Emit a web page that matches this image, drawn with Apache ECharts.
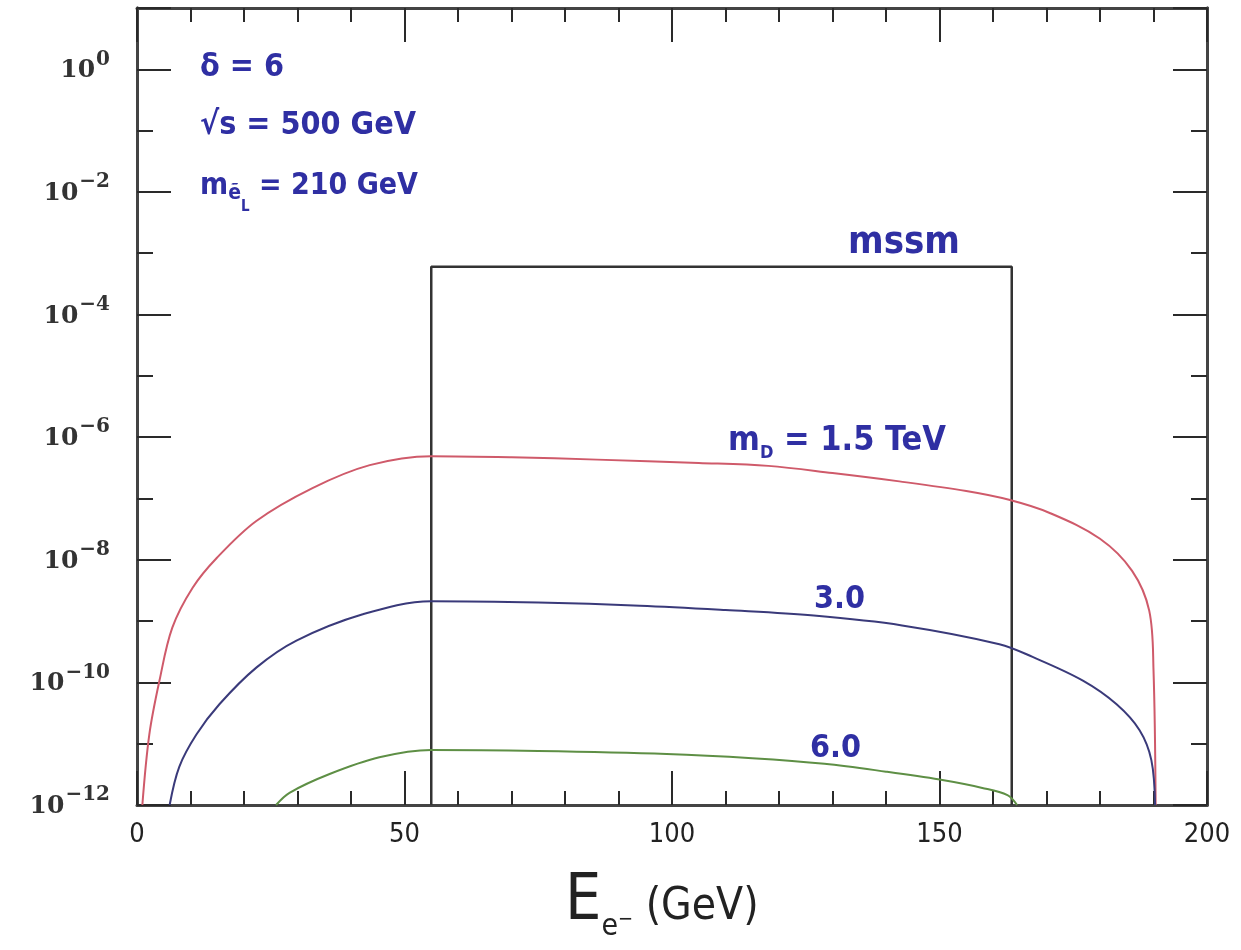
<!DOCTYPE html>
<html><head><meta charset="utf-8">
<script src="https://cdn.jsdelivr.net/npm/echarts@6/dist/echarts.min.js"></script>
<style>html,body{margin:0;padding:0;background:#fff}#c{width:1241px;height:950px}</style>
</head><body><div id="c"></div>
<script>
// ---- data ----
const xMin = 0, xMax = 200, xStep = 50;
const yMin = 1e-12, yMax = 10;

// m_D = 1.5 TeV (red)
const redX = [1.0, 2.3, 4.2, 6.6, 10.4, 14.9, 22.3, 32.8, 43.5, 55, 70, 86, 105, 118, 130, 142.5, 155, 163, 170.6, 180, 186, 189.2, 190, 190.4];
const redY = [1e-12, 1.41e-11, 1.07e-10, 7.8e-10, 3.5e-9, 1.07e-8, 4.3e-8, 1.48e-7, 3.5e-7, 4.9e-7, 4.7e-7, 4.3e-7, 3.8e-7, 3.4e-7, 2.6e-7, 1.9e-7, 1.32e-7, 9.5e-8, 5.8e-8, 2.2e-8, 6.6e-9, 1.48e-9, 1.6e-10, 1e-12];

// 3.0 TeV (blue)
const blueX = [6.1, 7.9, 11.1, 15.4, 22.3, 29.8, 42.2, 55, 75, 94, 110, 126.5, 143, 161.2, 167.4, 176.8, 183.1, 187.4, 189.6, 190.3];
const blueY = [1e-12, 4.2e-12, 1.41e-11, 4.4e-11, 1.74e-10, 4.8e-10, 1.29e-9, 2.1e-9, 2.0e-9, 1.78e-9, 1.51e-9, 1.23e-9, 8.5e-10, 4.2e-10, 2.6e-10, 1.07e-10, 4.4e-11, 1.66e-11, 5.4e-12, 1e-12];

// 6.0 TeV (green)
const greenX = [26, 28.5, 36, 45.3, 55, 75, 99, 115, 128.5, 140, 150, 158, 162.7, 164.5];
const greenY = [1e-12, 1.58e-12, 3.2e-12, 6.0e-12, 7.9e-12, 7.6e-12, 6.8e-12, 5.8e-12, 4.7e-12, 3.5e-12, 2.6e-12, 1.9e-12, 1.45e-12, 1e-12];

// MSSM box
const boxX = [55, 55, 163.5, 163.5];
const boxY = [1e-12, 6e-4, 6e-4, 1e-12];

// ---- chart ----
const pairs = (xs, ys) => xs.map((x, i) => [x, ys[i]]);
const hand = "'Liberation Sans Narrow','DejaVu Sans Condensed','Noto Sans',sans-serif";
const ink = '#2f2fa3';
const axisCol = '#444';
const tickCol = '#2a2a2a';

function xAxisCfg(pos, showLabel) {
  return {
    type: 'value', position: pos, min: xMin, max: xMax, interval: xStep,
    axisLine: { show: true, lineStyle: { color: axisCol, width: 3 } },
    axisTick: { show: true, inside: true, length: 34, lineStyle: { color: tickCol, width: 2 } },
    minorTick: { show: true, splitNumber: 5, length: 14, lineStyle: { color: tickCol, width: 2 } },
    splitLine: { show: false }, minorSplitLine: { show: false },
    axisLabel: { show: showLabel, margin: 16, color: '#222', fontFamily: hand, fontSize: 27 }
  };
}
function yAxisCfg(pos, interval, len, showLabel) {
  return {
    type: 'log', logBase: 10, position: pos, min: yMin, max: yMax, interval: interval,
    axisLine: { show: true, lineStyle: { color: axisCol, width: 3 } },
    axisTick: { show: true, inside: true, length: len, lineStyle: { color: tickCol, width: 2 } },
    splitLine: { show: false },
    axisLabel: {
      show: showLabel, margin: 27, color: '#222',
      formatter: function (v) {
        const e = Math.round(Math.log10(v));
        if (e % 2 !== 0 || e > 0) return '';
        return '{b|10}{s|' + (e === 0 ? '0' : '\u2212' + (-e)) + '}';
      },
      rich: {
        b: { fontFamily: 'DejaVu Serif', fontSize: 25, fontWeight: 'bold', color: '#333', verticalAlign: 'top', padding: [9, 0, 6, 0] },
        s: { fontFamily: 'DejaVu Serif', fontSize: 20, fontWeight: 'bold', color: '#333', verticalAlign: 'top', padding: [0, 0, 0, 1] }
      }
    }
  };
}

const chart = echarts.init(document.getElementById('c'), null, { renderer: 'canvas' });
chart.setOption({
  animation: false,
  backgroundColor: '#fff',
  grid: { left: 137, right: 34, top: 8, bottom: 145, containLabel: false },
  xAxis: [xAxisCfg('bottom', true), xAxisCfg('top', false)],
  yAxis: [
    yAxisCfg('left', 2, 34, true),
    yAxisCfg('left', 1, 16, false),
    yAxisCfg('right', 2, 34, false),
    yAxisCfg('right', 1, 16, false)
  ],
  series: [
    { type: 'line', name: 'mssm box', data: pairs(boxX, boxY), showSymbol: false, lineStyle: { color: '#333', width: 2.5 }, z: 3 },
    { type: 'line', name: '1.5 TeV', data: pairs(redX, redY), showSymbol: false, smooth: 0.35, lineStyle: { color: '#cf5a6a', width: 2 }, z: 4 },
    { type: 'line', name: '3.0 TeV', data: pairs(blueX, blueY), showSymbol: false, smooth: 0.35, lineStyle: { color: '#3a3a7a', width: 2 }, z: 4 },
    { type: 'line', name: '6.0 TeV', data: pairs(greenX, greenY), showSymbol: false, smooth: 0.35, lineStyle: { color: '#5e8f45', width: 2 }, z: 4 }
  ],
  graphic: [
    { type: 'text', x: 200, y: 52, style: { text: 'δ = 6', font: 'bold 32px ' + hand, fill: ink } },
    { type: 'text', x: 200, y: 110, style: { text: '√s = 500 GeV', font: 'bold 32px ' + hand, fill: ink } },
    { type: 'text', x: 200, y: 171, style: {
      text: '{m|m}{s|ẽ}{t|L}{m| = 210 GeV}', fill: ink,
      rich: {
        m: { fontFamily: hand, fontWeight: 'bold', fontSize: 30, color: ink, verticalAlign: 'top' },
        s: { fontFamily: hand, fontWeight: 'bold', fontSize: 21, color: ink, verticalAlign: 'top', padding: [12, 0, 0, 0] },
        t: { fontFamily: hand, fontWeight: 'bold', fontSize: 15, color: ink, verticalAlign: 'top', padding: [29, 0, 0, 0] }
      } } },
    { type: 'text', x: 848, y: 224, style: { text: 'mssm', font: 'bold 38px ' + hand, fill: ink } },
    { type: 'text', x: 728, y: 424, style: {
      text: '{m|m}{s|D}{m| = 1.5 TeV}', fill: ink,
      rich: {
        m: { fontFamily: hand, fontWeight: 'bold', fontSize: 34, color: ink, verticalAlign: 'top' },
        s: { fontFamily: hand, fontWeight: 'bold', fontSize: 18, color: ink, verticalAlign: 'top', padding: [20, 0, 0, 0] }
      } } },
    { type: 'text', x: 814, y: 584, style: { text: '3.0', font: 'bold 32px ' + hand, fill: ink } },
    { type: 'text', x: 810, y: 733, style: { text: '6.0', font: 'bold 32px ' + hand, fill: ink } },
    { type: 'text', x: 565, y: 870, style: {
      text: '{e|E}{s|e}{u|\u2212}{p| (GeV)}', fill: '#222',
      rich: {
        e: { fontFamily: hand, fontSize: 64, color: '#222', verticalAlign: 'top' },
        s: { fontFamily: hand, fontSize: 30, color: '#222', verticalAlign: 'top', padding: [42, 0, 0, 0] },
        u: { fontFamily: hand, fontSize: 20, color: '#222', verticalAlign: 'top', padding: [40, 0, 0, 0] },
        p: { fontFamily: hand, fontSize: 44, color: '#222', verticalAlign: 'top', padding: [16, 0, 0, 0] }
      } } }
  ]
});
</script>
</body></html>
